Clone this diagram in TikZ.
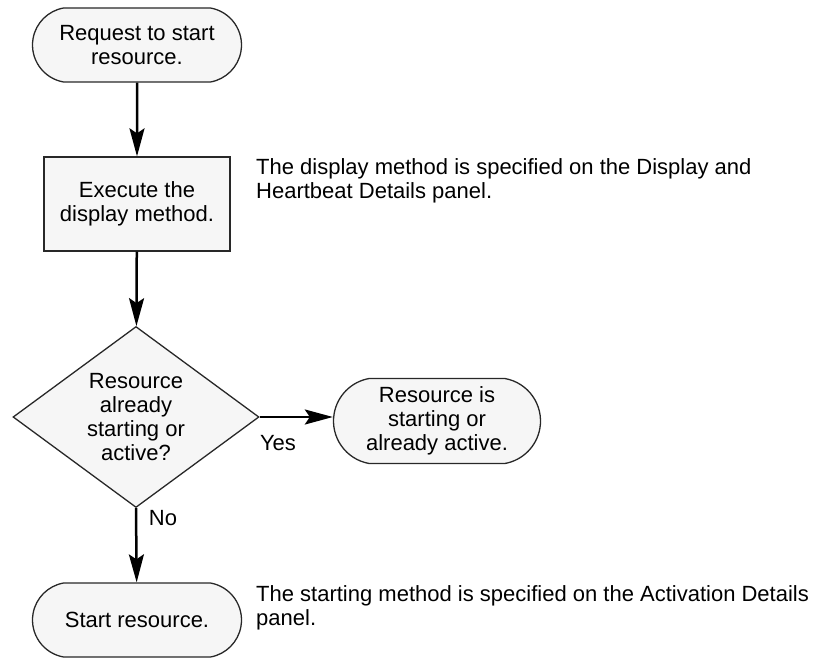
\documentclass[tikz,border=0pt]{standalone}
\usepackage{fontspec}
\setmainfont{Liberation Sans}
\usetikzlibrary{shapes.geometric,shapes.misc,arrows.meta}
\definecolor{boxfill}{RGB}{246, 246, 246}
\definecolor{boxline}{RGB}{40, 40, 40}

\begin{document}
\begin{tikzpicture}[x=1pt, y=-1pt,
        every node/.style={align=center, font=\fontsize{22}{24}\selectfont, inner sep=0pt},
        terminal/.style={draw=boxline, fill=boxfill, line width=1.3pt, rounded rectangle, rounded rectangle arc length=160, minimum width=209pt, minimum height=74pt},
        process/.style={draw=boxline, fill=boxfill, line width=1.3pt, minimum width=186pt, minimum height=94pt},
        decision/.style={draw=boxline, fill=boxfill, line width=1.3pt, diamond, aspect=1.36, minimum width=246pt, minimum height=181pt},
        note/.style={align=left, anchor=west},
        flow/.style={line width=2.5pt, -{Stealth[length=28pt, width=15pt, inset=5pt]}}
      ]
        \useasboundingbox (0,0) rectangle (830,658);
        \node[terminal] (request) at (137,45) {Request to start\\resource.};
        \node[process] (execute) at (137,204) {Execute the\\display method.};
        \node[decision] (check) at (136,417) {Resource\\already\\starting or\\active?};
        \node[terminal, minimum width=207pt, minimum height=85pt] (active) at (437,421) {Resource is\\starting or\\already active.};
        \node[terminal] (startres) at (137,620) {Start resource.};
        \node[note] (displaynote) at (256,181) {The display method is specified on the Display and\\Heartbeat Details panel.};
        \node[note] (startnote) at (256,608) {The starting method is specified on the Activation Details\\panel.};
        \node (yes) at (278,443) {Yes};
        \node (no) at (163,518) {No};

        \draw[flow] (request) -- (execute);
        \draw[flow] (execute) -- (check);
        \draw[flow] (check.east) -- (active.west |- check.east);
        \draw[flow] (check.south) -- (startres);
      \end{tikzpicture}
\end{document}
